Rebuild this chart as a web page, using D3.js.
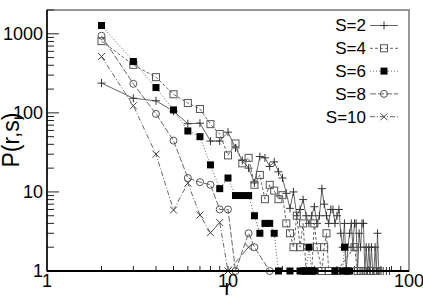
<!DOCTYPE html>
<html>
<head>
<meta charset="utf-8">
<script src="https://cdn.jsdelivr.net/npm/d3@7"></script>
<style>
  body { margin: 0; background: #fff; }
  svg { display: block; font-family: "Liberation Sans", Arial, sans-serif; }
</style>
</head>
<body>
<div id="root"></div>
<script>
// tick labels
const xTickValues = [1, 10, 100];
const yTickValues = [1, 10, 100, 1000];

// series, [r, P(r,s)]
const s2 = [[2,238],[3,153],[4,142],[5,105],[6,73],[7,74],[8,44],[9,44],[10,57],[11,36],[12,25],[13,20],[14,13],[15,28],[16,27],[17,21],[18,24],[19,18],[20,15],[21,9.6],[22,6.2],[23,10],[24,5],[25,6],[26,8],[27,5],[28,4],[29,5],[30,6.5],[31,4],[32,5],[33,11],[34,7],[35,5],[36,4],[37,6],[38,6],[39,4],[40,5],[41,6],[42,3],[43,2],[44,4],[45,1],[46,2],[47,3],[48,4],[49,2],[50,4],[51,4],[52,1],[53,3],[54,2],[55,4],[56,4],[57,1],[58,2],[59,1],[60,2],[61,1],[62,2],[63,1],[64,1],[65,2],[66,1],[67,3],[68,1],[70,1],[72,1],[75,1],[78,1]];
const s4 = [[2,808],[3,405],[4,283],[5,172],[6,133],[7,112],[8,72],[9,54],[10,29],[11,41],[12,23],[13,27],[14,12.3],[15,16.4],[16,8.1],[17,12.3],[18,10.4],[19,8.1],[20,9.1],[21,4],[22,3],[23,2],[24,5],[25,2],[26,4],[27,1],[29,1],[30,4],[31,2],[33,1],[34,2],[35,3],[36,1],[40,1],[50,2],[52,1],[54,1],[56,1],[58,1],[61,1],[64,1],[66,1]];
const s6 = [[2,1274],[3,446],[4,209],[5,109],[6,59],[7,50],[8,22],[9,11],[10,15],[11,9],[12,9],[13,9],[14,5],[15,3],[16,4],[17,4],[18,3],[19,1],[22,1],[25,1],[26,1],[27,1],[28,2],[29,1],[30,1],[39,1],[43,1],[44,2],[45,1],[46,1],[47,1]];
const s8 = [[2,944],[3,233],[4,97],[5,44.6],[6,15],[7,13.3],[8,12.3],[9,6],[10,6],[11,1],[13,3],[14,2],[17,1]];
const s10 = [[2,516],[3,123],[4,30],[5,5.9],[6,12.9],[7,5.1],[8,3.05],[9,4.1],[10,1],[13,2]];

const seriesNames = ["S=2", "S=4", "S=6", "S=8", "S=10"];
const seriesData = [s2, s4, s6, s8, s10];

const width = 423, height = 296;
const margins = { top: 10, right: 14, bottom: 25, left: 47 };

const svg = d3.select("#root").append("svg")
  .attr("width", width)
  .attr("height", height)
  .attr("viewBox", [0, 0, width, height]);

const x = d3.scaleLog().domain([1, 100]).range([margins.left, width - margins.right]);
const y = d3.scaleLog().domain([1, 2000]).range([height - margins.bottom, margins.top]);

// styles per series
const styles = [
  { dash: null, marker: "plus" },
  { dash: "3,2", marker: "square" },
  { dash: "1,2", marker: "filled" },
  { dash: "6,2", marker: "circle" },
  { dash: "5,2,1,2", marker: "cross" }
];

function drawMarker(g, type) {
  if (type === "plus") {
    g.append("path").attr("d", "M-4,0H4M0,-4V4").attr("stroke", "#333").attr("fill", "none");
  } else if (type === "square") {
    g.append("rect").attr("x", -3.5).attr("y", -3.5).attr("width", 7).attr("height", 7)
      .attr("fill", "none").attr("stroke", "#555");
  } else if (type === "filled") {
    g.append("rect").attr("x", -3.5).attr("y", -3.5).attr("width", 7).attr("height", 7)
      .attr("fill", "#000");
  } else if (type === "circle") {
    g.append("circle").attr("r", 3.5).attr("fill", "none").attr("stroke", "#555");
  } else {
    g.append("path").attr("d", "M-3.5,-3.5L3.5,3.5M-3.5,3.5L3.5,-3.5").attr("stroke", "#444").attr("fill", "none");
  }
}

// frame
svg.append("rect")
  .attr("x", margins.left).attr("y", margins.top)
  .attr("width", width - margins.right - margins.left)
  .attr("height", height - margins.bottom - margins.top)
  .attr("fill", "none").attr("stroke", "#777").attr("stroke-width", 1.5);

// y ticks (inward)
const yTicks = y.ticks();
svg.append("g").selectAll("line").data(yTicks).join("line")
  .attr("x1", margins.left)
  .attr("x2", (d) => margins.left + (yTickValues.includes(d) ? 12 : 7))
  .attr("y1", (d) => y(d)).attr("y2", (d) => y(d))
  .attr("stroke", "#222");

// x ticks (inward)
const xTicks = x.ticks().filter((d) => d > 1 && d < 100);
svg.append("g").selectAll("line").data(xTicks).join("line")
  .attr("x1", (d) => x(d)).attr("x2", (d) => x(d))
  .attr("y1", y(1)).attr("y2", y(1) - 5)
  .attr("stroke", "#222");

// series
const line = d3.line().x((d) => x(d[0])).y((d) => y(d[1]));
seriesData.forEach((data, i) => {
  const st = styles[i];
  const g = svg.append("g");
  g.append("path").datum(data)
    .attr("d", line)
    .attr("fill", "none")
    .attr("stroke", "#555")
    .attr("stroke-width", 0.9)
    .attr("stroke-dasharray", st.dash);
  g.selectAll("g").data(data).join("g")
    .attr("transform", (d) => `translate(${x(d[0])},${y(d[1])})`)
    .each(function () { drawMarker(d3.select(this), st.marker); });
});

// axes lines
svg.append("line")
  .attr("x1", margins.left).attr("x2", width - margins.right)
  .attr("y1", y(1)).attr("y2", y(1))
  .attr("stroke", "#000").attr("stroke-width", 2);
svg.append("line")
  .attr("x1", margins.left).attr("x2", margins.left)
  .attr("y1", margins.top).attr("y2", y(1))
  .attr("stroke", "#000").attr("stroke-width", 1.5);

// tick labels
svg.append("g").selectAll("text").data(yTickValues).join("text")
  .attr("x", 43).attr("y", (d) => y(d))
  .attr("dy", "0.35em")
  .attr("text-anchor", "end")
  .attr("font-size", 18)
  .text((d) => d);
svg.append("g").selectAll("text").data(xTickValues).join("text")
  .attr("x", (d) => x(d)).attr("y", 287)
  .attr("text-anchor", "middle")
  .attr("font-size", 18)
  .text((d) => d);

// axis titles
svg.append("text")
  .attr("transform", "translate(19,140) rotate(-90)")
  .attr("text-anchor", "middle")
  .attr("font-size", 23)
  .text("P(r,s)");
svg.append("text")
  .attr("x", x(10)).attr("y", 295)
  .attr("text-anchor", "middle")
  .attr("font-size", 22)
  .text("r");

// legend
const legend = svg.append("g").selectAll("g").data(seriesNames).join("g")
  .attr("transform", (d, i) => `translate(0,${25.5 + i * 22.8})`);
legend.append("text")
  .attr("x", 366).attr("dy", "0.35em")
  .attr("text-anchor", "end")
  .attr("font-size", 17)
  .text((d) => d);
legend.append("line")
  .attr("x1", 370).attr("x2", 398)
  .attr("stroke", "#555").attr("stroke-width", 0.9)
  .attr("stroke-dasharray", (d, i) => styles[i].dash);
legend.append("g")
  .attr("transform", "translate(384,0)")
  .each(function (d, i) { drawMarker(d3.select(this), styles[i].marker); });
</script>
</body>
</html>
